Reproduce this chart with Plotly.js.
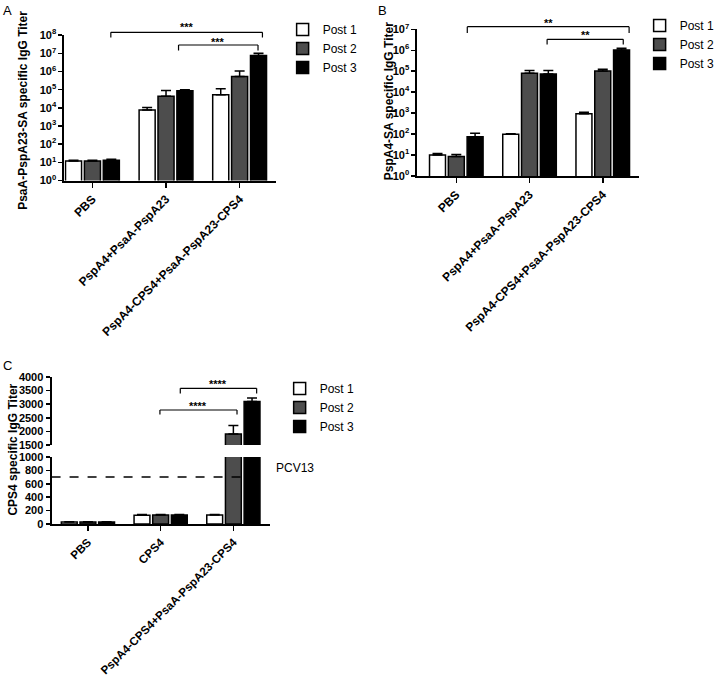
<!DOCTYPE html>
<html>
<head>
<meta charset="utf-8">
<script src="https://cdn.plot.ly/plotly-3.0.1.min.js"></script>
<style>html,body{margin:0;padding:0;background:#fff;}#chart{width:720px;height:677px;}</style>
</head>
<body>
<div id="chart"></div>
<script>
// ---------- DATA ----------
const seriesNames = ['Post 1', 'Post 2', 'Post 3'];

const catsA = ['PBS', 'PspA4+PsaA-PspA23', 'PspA4-CPS4+PsaA-PspA23-CPS4'];
const aPost1 = [12, 7500, 52000];
const aPost1Err = [1, 3000, 60000];
const aPost2 = [12, 44000, 530000];
const aPost2Err = [1, 46000, 540000];
const aPost3 = [13, 88000, 7700000];
const aPost3Err = [2, 12000, 2500000];

const catsB = ['PBS', 'PspA4+PsaA-PspA23', 'PspA4-CPS4+PsaA-PspA23-CPS4'];
const bPost1 = [10, 98, 940];
const bPost1Err = [2, 7, 160];
const bPost2 = [8.5, 80000, 103000];
const bPost2Err = [2, 27000, 21000];
const bPost3 = [75, 74000, 1030000];
const bPost3Err = [35, 33000, 220000];

const catsC = ['PBS', 'CPS4', 'PspA4-CPS4+PsaA-PspA23-CPS4'];
const cPost1 = [30, 130, 135];
const cPost1Err = [5, 10, 8];
const cPost2 = [28, 135, 1900];
const cPost2Err = [5, 8, 320];
const cPost3 = [28, 135, 3100];
const cPost3Err = [5, 8, 130];
const pcv13Level = 700;

const logTickValsA = [1, 10, 100, 1000, 1e4, 1e5, 1e6, 1e7, 1e8];
const logTickTextA = ['10<sup>0</sup>', '10<sup>1</sup>', '10<sup>2</sup>', '10<sup>3</sup>', '10<sup>4</sup>', '10<sup>5</sup>', '10<sup>6</sup>', '10<sup>7</sup>', '10<sup>8</sup>'];
const logTickValsB = [1, 10, 100, 1000, 1e4, 1e5, 1e6, 1e7];
const logTickTextB = ['10<sup>0</sup>', '10<sup>1</sup>', '10<sup>2</sup>', '10<sup>3</sup>', '10<sup>4</sup>', '10<sup>5</sup>', '10<sup>6</sup>', '10<sup>7</sup>'];
const cLowTicks = [0, 200, 400, 600, 800, 1000];
const cHighTicks = [1500, 2000, 2500, 3000, 3500, 4000];

// ---------- STYLE ----------
const W = 720, H = 677;
const fx = p => p / W;
const fy = p => 1 - p / H;
const FONT = 'Liberation Sans, Arial, sans-serif';
const fills = ['#ffffff', '#4d4d4d', '#000000'];

function mkTraces(cats, vals, errs, xa, ya, legend, showleg) {
  return vals.map((v, i) => ({
    type: 'bar', x: cats, y: v, name: seriesNames[i],
    xaxis: xa, yaxis: ya, legend: legend, showlegend: showleg,
    marker: {color: fills[i], line: {color: '#000', width: 1.5}},
    error_y: {type: 'data', symmetric: false, array: errs[i], arrayminus: v.map(() => 0),
              color: '#000', thickness: 1.5, width: 5}
  }));
}

const traces = [].concat(
  mkTraces(catsA, [aPost1, aPost2, aPost3], [aPost1Err, aPost2Err, aPost3Err], 'x', 'y', 'legend', true),
  mkTraces(catsB, [bPost1, bPost2, bPost3], [bPost1Err, bPost2Err, bPost3Err], 'x2', 'y2', 'legend2', true),
  mkTraces(catsC, [cPost1, cPost2, cPost3], [cPost1Err, cPost2Err, cPost3Err], 'x3', 'y3', 'legend3', true),
  mkTraces(catsC, [cPost1, cPost2, cPost3], [cPost1Err, cPost2Err, cPost3Err], 'x3', 'y4', 'legend3', false)
);

const tickFont = {family: FONT, size: 11, color: '#000', weight: 'bold'};
function xax(domain, range, anchor, fsize) {
  return {domain: domain, range: range, anchor: anchor, type: 'category',
    showline: true, linewidth: 2, linecolor: '#000', ticks: 'outside', ticklen: 5, tickwidth: 1.5,
    tickcolor: '#000', tickangle: -45, tickfont: {family: FONT, size: fsize, color: '#000', weight: 'bold'},
    showgrid: false, zeroline: false, fixedrange: true};
}
function yax(domain, extra) {
  return Object.assign({domain: domain, showline: true, linewidth: 2, linecolor: '#000',
    ticks: 'outside', ticklen: 4, tickwidth: 1.5, tickcolor: '#000', tickfont: tickFont,
    showgrid: false, zeroline: false, fixedrange: true}, extra);
}

const shapes = [];
const annotations = [];
function bracket(xref, x0, x1, yTop, yBot, stars, yStar) {
  const ln = {color: '#000', width: 1.2};
  shapes.push({type: 'line', xref: xref, yref: 'paper', x0: x0, x1: x1, y0: fy(yTop), y1: fy(yTop), line: ln});
  shapes.push({type: 'line', xref: xref, yref: 'paper', x0: x0, x1: x0, y0: fy(yTop), y1: fy(yBot), line: ln});
  shapes.push({type: 'line', xref: xref, yref: 'paper', x0: x1, x1: x1, y0: fy(yTop), y1: fy(yBot), line: ln});
  annotations.push({xref: xref, yref: 'paper', x: (x0 + x1) / 2, y: fy(yStar), text: stars, showarrow: false,
    font: {family: FONT, size: 11, color: '#000', weight: 'bold'}, yanchor: 'middle'});
}
bracket('x', 0.25, 2.31, 32.3, 37.5, '***', 27);
bracket('x', 1.17, 2.25, 45, 50.5, '***', 42);
bracket('x2', 0.15, 2.36, 26.7, 33, '**', 23);
bracket('x2', 1.24, 2.28, 39.3, 44.5, '**', 35);
bracket('x3', 1.27, 2.32, 388.3, 393.5, '****', 384);
bracket('x3', 0.99, 2.05, 410, 414.5, '****', 406);

// PCV13 reference line
shapes.push({type: 'line', xref: 'paper', yref: 'y3', x0: fx(52), x1: fx(268), y0: pcv13Level, y1: pcv13Level,
  line: {color: '#000', width: 1.5, dash: 'dash'}});
annotations.push({xref: 'paper', yref: 'y3', x: fx(276), y: pcv13Level, xanchor: 'left', yanchor: 'bottom',
  text: 'PCV13', showarrow: false, font: {family: FONT, size: 12, color: '#000'}});

// y-axis titles
function ytitle(text, x, y) {
  annotations.push({xref: 'paper', yref: 'paper', x: fx(x), y: fy(y), text: text, textangle: -90,
    showarrow: false, xanchor: 'center', yanchor: 'middle',
    font: {family: FONT, size: 12, color: '#000', weight: 'bold'}});
}
ytitle('PsaA-PspA23-SA specific IgG Titer', 23, 110);
ytitle('PspA4-SA specific IgG Titer', 393, 101.5);
ytitle('CPS4 specific IgG Titer', 12.7, 450);

// panel letters
function letter(t, x, y) {
  annotations.push({xref: 'paper', yref: 'paper', x: fx(x), y: fy(y), text: t, showarrow: false,
    xanchor: 'left', yanchor: 'top', font: {family: FONT, size: 13, color: '#000'}});
}
letter('A', 1, 1);
letter('B', 379, 1);
letter('C', 1, 356);

const legFont = {family: FONT, size: 12, color: '#000'};
const layout = {
  width: W, height: H, margin: {l: 0, r: 0, t: 0, b: 0},
  paper_bgcolor: '#fff', plot_bgcolor: 'rgba(0,0,0,0)',
  barmode: 'group', bargap: 0.23, bargroupgap: 0.15,
  xaxis: xax([fx(65), fx(278)], [-0.38, 2.49], 'y', 12),
  yaxis: yax([fy(180.5), fy(35.2)], {type: 'log', range: [0, 8], tickvals: logTickValsA, ticktext: logTickTextA, anchor: 'x'}),
  xaxis2: xax([fx(421), fx(644)], [-0.53, 2.49], 'y2', 12),
  yaxis2: yax([fy(176), fy(29.3)], {type: 'log', range: [0, 7], tickvals: logTickValsB, ticktext: logTickTextB, anchor: 'x2'}),
  xaxis3: xax([fx(52), fx(272)], [-0.5, 2.5], 'y3', 11.6),
  yaxis3: yax([fy(524), fy(457)], {range: [0, 1000], tickvals: cLowTicks, anchor: 'x3'}),
  yaxis4: yax([fy(445), fy(377)], {range: [1500, 4000], tickvals: cHighTicks, anchor: 'x3'}),
  legend: {x: fx(285), y: fy(15), xanchor: 'left', yanchor: 'top', font: legFont, bgcolor: 'rgba(0,0,0,0)', traceorder: 'normal'},
  legend2: {x: fx(645), y: fy(11), xanchor: 'left', yanchor: 'top', font: legFont, bgcolor: 'rgba(0,0,0,0)', traceorder: 'normal'},
  legend3: {x: fx(282), y: fy(374), xanchor: 'left', yanchor: 'top', font: legFont, bgcolor: 'rgba(0,0,0,0)', traceorder: 'normal'},
  shapes: shapes,
  annotations: annotations,
  showlegend: true
};

Plotly.newPlot('chart', traces, layout, {displayModeBar: false, staticPlot: true});
</script>
</body>
</html>
